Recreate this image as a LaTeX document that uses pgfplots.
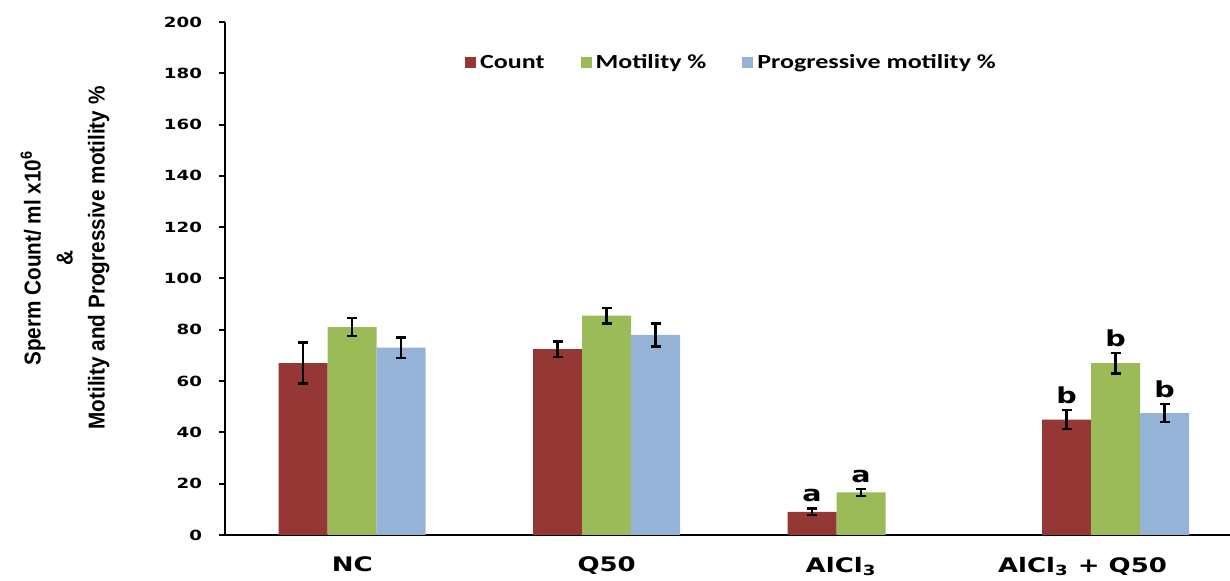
\documentclass[border=0pt]{standalone}
\usepackage{fontspec}
\usepackage{pgfplots}
\usepackage{pgfplotstable}
\pgfplotsset{compat=1.18}
\setmainfont{DejaVu Sans}
\newfontface\tickfont[FakeStretch=1.3]{DejaVu Sans Bold}
\newfontface\legfont[FakeStretch=1.3]{Carlito Bold}
\newfontface\labfont[FakeStretch=0.9]{Liberation Sans Bold}

\definecolor{cRed}{HTML}{953735}
\definecolor{cGreen}{HTML}{9BBB59}
\definecolor{cBlue}{HTML}{95B3D7}

% group: 0 = NC, 1 = Q50, 2 = AlCl3, 3 = AlCl3 + Q50
\pgfplotstableread{
x y e
0 67 8
1 72.5 3
2 9 1.3
3 45 3.7
}\countdata
\pgfplotstableread{
x y e
0 81 3.5
1 85.5 3
2 16.6 1.3
3 67 4
}\motdata
\pgfplotstableread{
x y e
0 73 4
1 78 4.5
3 47.5 3.5
}\progdata

\begin{document}
\begin{tikzpicture}
\begin{axis}[
  scale only axis, width=502.5pt, height=256.5pt,
  xmin=-0.5, xmax=3.45, ymin=0, ymax=200,
  axis x line*=bottom, axis y line*=left,
  axis line style={line width=1pt, black},
  ytick={0,20,...,200},
  xtick={0,1,2,3},
  xticklabels={NC, Q50, AlCl\textsubscript{3}\hspace*{20pt}, AlCl\textsubscript{3} + Q50\hspace*{33pt}},
  x tick style={draw=none},
  y tick style={line width=1pt, black},
  tick align=outside, major tick length=3pt,
  /pgf/number format/assume math mode=true,
  yticklabel style={font=\tickfont\fontsize{7}{8}\selectfont, xshift=-5pt},
  xticklabel style={font=\tickfont\fontsize{10}{12}\selectfont, yshift=-4.5pt},
  ybar=0pt, bar width=24.5pt,
  clip=false,
  legend columns=3,
  legend style={at={(0.505,0.92)}, anchor=center, draw=none, fill=none,
    font=\legfont\fontsize{10}{12}\selectfont,
    /tikz/every even column/.append style={column sep=16pt}},
  error bars/y dir=both, error bars/y explicit,
  error bars/error bar style={line width=1.2pt, black},
  error bars/error mark options={rotate=90, line width=1.2pt, mark size=2.5pt, black},
]
\addplot[fill=cRed, draw=none,
  legend image code/.code={\fill[cRed] (0pt,-2.5pt) rectangle (5.5pt,3pt);}]
  table[x=x, y=y, y error=e] {\countdata};
\addplot[fill=cGreen, draw=none,
  legend image code/.code={\fill[cGreen] (0pt,-2.5pt) rectangle (5.5pt,3pt);}]
  table[x=x, y=y, y error=e] {\motdata};
\addplot[fill=cBlue, draw=none,
  legend image code/.code={\fill[cBlue] (0pt,-2.5pt) rectangle (5.5pt,3pt);}]
  table[x=x, y=y, y error=e] {\progdata};
\legend{Count, Motility \%, Progressive motility \%}

% significance letters above the error bars
\begin{scope}[every node/.style={anchor=south, inner sep=0pt, yshift=3pt,
    font=\tickfont\fontsize{11}{12}\selectfont}]
\node[xshift=-24.5pt] at (axis cs:2,10.3) {a};
\node at (axis cs:2,17.9) {a};
\node[xshift=-24.5pt] at (axis cs:3,48.7) {b};
\node at (axis cs:3,71) {b};
\node[xshift=24.5pt] at (axis cs:3,51) {b};
\end{scope}

\node[rotate=90, align=center, font=\labfont\fontsize{11.5}{16}\selectfont]
  at ([xshift=-80pt]rel axis cs:0,0.54)
  {Sperm Count/ ml x10\textsuperscript{6}\\\&\\Motility and Progressive motility \%};

\coordinate (SW) at (rel axis cs:0,0);
\coordinate (NE) at (rel axis cs:1,1);
\end{axis}
\pgfresetboundingbox
\path ([xshift=-112.5pt,yshift=-23pt]SW) rectangle ([yshift=11pt]NE);
\end{tikzpicture}
\end{document}
